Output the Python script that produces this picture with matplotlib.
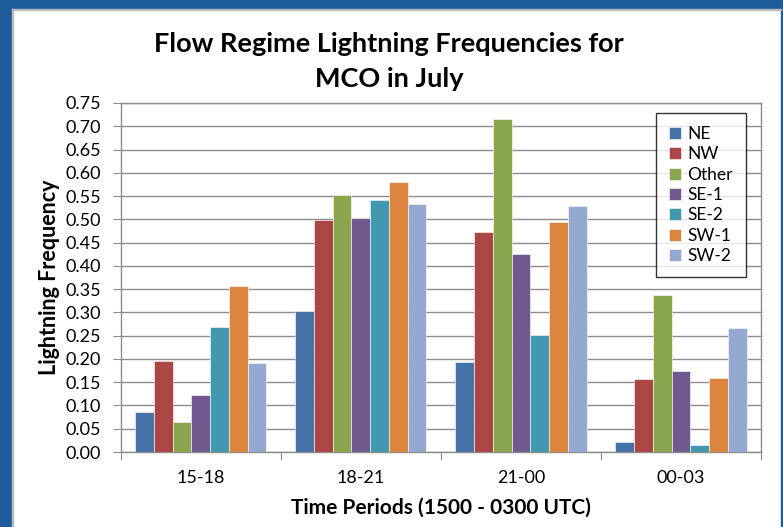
import matplotlib
matplotlib.use("Agg")
import matplotlib.pyplot as plt
import numpy as np
from matplotlib.patches import Rectangle

plt.rcParams['font.family'] = ['Lato', 'DejaVu Sans']

categories = ["15-18", "18-21", "21-00", "00-03"]
series_names = ["NE", "NW", "Other", "SE-1", "SE-2", "SW-1", "SW-2"]
NE = [0.085, 0.302, 0.193, 0.021]
NW = [0.196, 0.499, 0.473, 0.156]
Other = [0.064, 0.553, 0.716, 0.337]
SE1 = [0.123, 0.502, 0.425, 0.173]
SE2 = [0.269, 0.542, 0.252, 0.016]
SW1 = [0.357, 0.580, 0.494, 0.160]
SW2 = [0.192, 0.533, 0.528, 0.266]
series_values = [NE, NW, Other, SE1, SE2, SW1, SW2]
colors = ["#4572A7", "#AA4643", "#89A54E", "#71588F", "#4198AF", "#DB843D", "#93A9CF"]
yticks = [round(0.05 * i, 2) for i in range(16)]

fig = plt.figure(figsize=(7.83, 5.27), dpi=100)
fig.patch.set_facecolor("white")

# blue frame
blue = "#1E5B9A"
fig.add_artist(Rectangle((0, 0), 12 / 783, 1, transform=fig.transFigure, color=blue, zorder=0))
fig.add_artist(Rectangle((0, 1 - 9 / 527), 1, 9 / 527, transform=fig.transFigure, color=blue, zorder=0))
fig.add_artist(Rectangle((1 - 2 / 783, 0), 2 / 783, 1, transform=fig.transFigure, color=blue, zorder=0))
fig.add_artist(Rectangle((12 / 783, 0), 1.2 / 783, 1 - 9 / 527, transform=fig.transFigure, color="#BBBBBB", zorder=0))
fig.add_artist(Rectangle((12 / 783, 1 - 10.2 / 527), 1 - 14 / 783, 1.2 / 527, transform=fig.transFigure, color="#BBBBBB", zorder=0))

ax = fig.add_axes([0.1541, 0.1423, 0.9720 - 0.1541, 0.8046 - 0.1423])

x = np.arange(len(categories))
n = len(series_names)
width = 0.82 / n
for i, (name, vals, c) in enumerate(zip(series_names, series_values, colors)):
    offs = (i - (n - 1) / 2) * width
    ax.bar(x + offs, vals, width=width, color=c, edgecolor="white", linewidth=0.4,
           label=name, zorder=3)

ax.set_xlim(-0.5, len(categories) - 0.5)
ax.set_ylim(0, 0.75)
ax.set_yticks(yticks)
ax.set_yticklabels([f"{v:.2f}" for v in yticks], fontsize=13)
ax.yaxis.grid(True, color="#8C8C8C", linewidth=1.0, zorder=0)
ax.set_axisbelow(True)

ax.set_xticks(np.arange(len(categories) + 1) - 0.5)
ax.set_xticklabels([])
ax.set_xticks(x, minor=True)
ax.set_xticklabels(categories, minor=True, fontsize=13)
ax.tick_params(axis="x", which="minor", length=0, pad=13)
ax.tick_params(axis="x", which="major", length=6, color="#8C8C8C", direction="out")
ax.tick_params(axis="y", length=6, color="#8C8C8C", direction="out", pad=8)

for s in ["left", "bottom", "top", "right"]:
    ax.spines[s].set_color("#8C8C8C")
    ax.spines[s].set_linewidth(1.0)

ax.set_ylabel("Lightning Frequency", fontsize=15.5, fontweight="bold", labelpad=4)
ax.set_xlabel("Time Periods (1500 - 0300 UTC)", fontsize=15, fontweight="bold", labelpad=8)

fig.text(0.497, 0.884, "Flow Regime Lightning Frequencies for\nMCO in July", ha="center",
         va="center", fontsize=19.5, fontweight="bold", linespacing=1.55)

leg = ax.legend(loc="upper right", bbox_to_anchor=(0.9766, 0.971), fontsize=12.5,
                frameon=True, fancybox=False, edgecolor="black", handlelength=0.7,
                handleheight=0.7, handletextpad=0.35, labelspacing=0.25, borderpad=0.75,
                borderaxespad=0)
leg.get_frame().set_linewidth(1.0)

fig.savefig("out.png", dpi=100)
